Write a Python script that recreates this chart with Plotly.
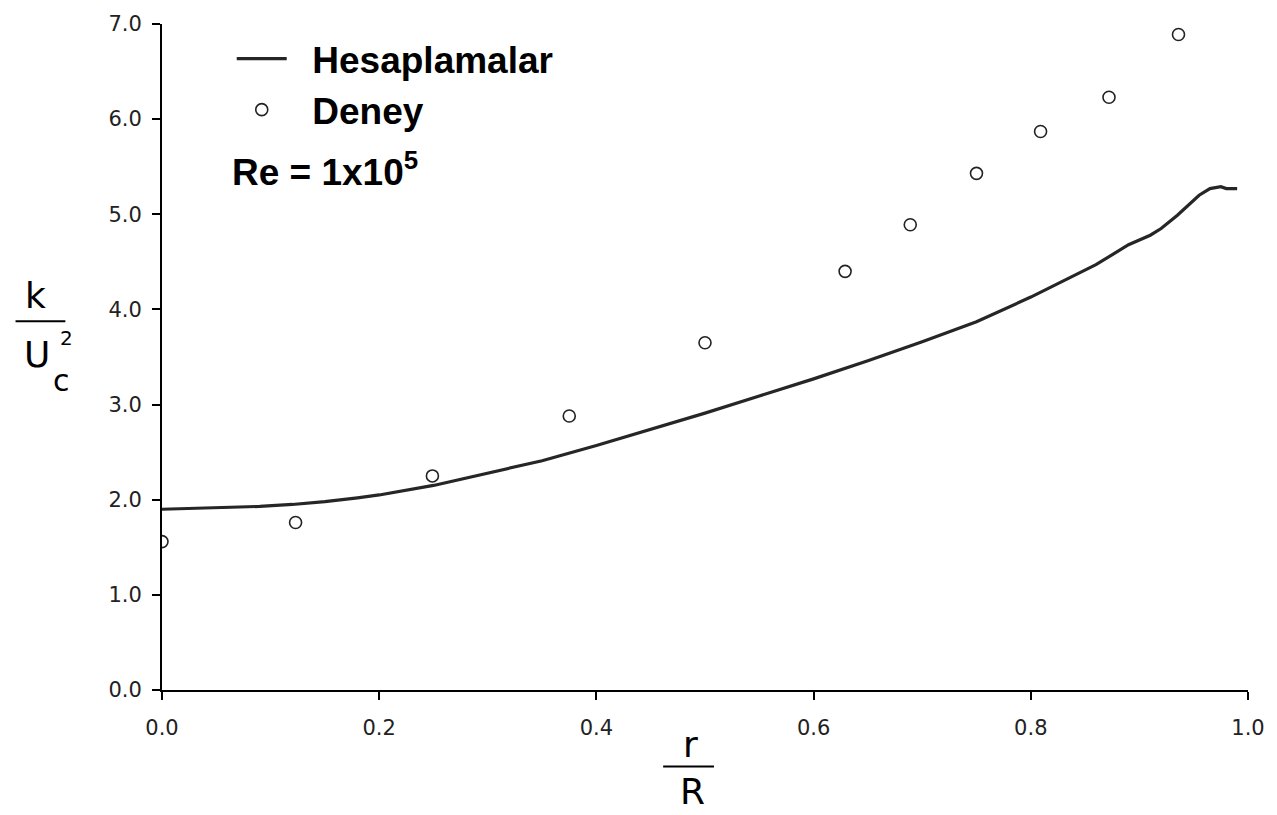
import plotly.graph_objects as go

# ---------------- data ----------------
calc_r = [0.0, 0.03, 0.06, 0.09, 0.12, 0.15, 0.18, 0.20, 0.25, 0.30, 0.35, 0.40,
          0.45, 0.50, 0.55, 0.60, 0.65, 0.70, 0.75, 0.80, 0.83, 0.86, 0.89, 0.91,
          0.92, 0.935, 0.955, 0.965, 0.975, 0.98, 0.99]
calc_k = [1.90, 1.91, 1.92, 1.93, 1.95, 1.98, 2.02, 2.05, 2.15, 2.28, 2.41, 2.57,
          2.74, 2.91, 3.09, 3.27, 3.46, 3.66, 3.87, 4.13, 4.30, 4.47, 4.68, 4.78,
          4.85, 4.99, 5.20, 5.27, 5.29, 5.27, 5.27]

exp_r = [0.0, 0.123, 0.249, 0.375, 0.50, 0.629, 0.689, 0.750, 0.809, 0.872, 0.936]
exp_k = [1.56, 1.76, 2.25, 2.88, 3.65, 4.40, 4.89, 5.43, 5.87, 6.23, 6.89]

x_ticks = [0.0, 0.2, 0.4, 0.6, 0.8, 1.0]
y_ticks = [0, 1, 2, 3, 4, 5, 6, 7]

# ---------------- layout geometry ----------------
W, H = 1277, 815
L, R, T, B = 162, 25, 20, 125
PW, PH = W - L - R, H - T - B


def px(x):
    return (x - L) / PW


def py(y):
    return (H - B - y) / PH


FONT = "DejaVu Sans"
BFONT = "Liberation Sans"
NB = "\u00a0\u00a0"

fig = go.Figure()
fig.add_trace(go.Scatter(
    x=calc_r, y=calc_k, mode="lines", name=NB + "Hesaplamalar",
    line=dict(color="#262626", width=3.2), legendgroup="a"))
fig.add_trace(go.Scatter(
    x=exp_r, y=exp_k, mode="markers", name=NB + "Deney",
    marker=dict(symbol="circle-open", size=12, color="#222222",
                line=dict(width=1.6, color="#222222")), legendgroup="b"))

annotations = [
    dict(text="Re = 1x10<sup>5</sup>", x=px(230), y=py(166), xanchor="left", yanchor="middle",
         font=dict(family=BFONT, size=37, color="black", weight="bold")),
    # y-axis title fraction
    dict(text="k", x=px(35), y=py(293), xanchor="center", yanchor="middle",
         font=dict(family=FONT, size=36, color="black")),
    dict(text="U", x=px(37), y=py(352), xanchor="center", yanchor="middle",
         font=dict(family=FONT, size=36, color="black")),
    dict(text="2", x=px(66), y=py(336), xanchor="center", yanchor="middle",
         font=dict(family=FONT, size=20, color="black")),
    dict(text="c", x=px(61), y=py(379), xanchor="center", yanchor="middle",
         font=dict(family=FONT, size=30, color="black")),
    # x-axis title fraction
    dict(text="r", x=px(692), y=py(745), xanchor="center", yanchor="middle",
         font=dict(family=FONT, size=36, color="black")),
    dict(text="R", x=px(694), y=py(792), xanchor="center", yanchor="middle",
         font=dict(family=FONT, size=36, color="black")),
]
for a in annotations:
    a.update(xref="paper", yref="paper", showarrow=False)

shapes = [
    dict(type="line", xref="paper", yref="paper", x0=px(15), x1=px(65), y0=py(319), y1=py(319),
         line=dict(color="black", width=2)),
    dict(type="line", xref="paper", yref="paper", x0=px(665), x1=px(716), y0=py(767), y1=py(767),
         line=dict(color="black", width=2)),
]

axis_common = dict(showline=True, linecolor="black", linewidth=2, ticks="outside",
                   ticklen=8, tickwidth=1.5, tickcolor="black", showgrid=False,
                   zeroline=False, tickfont=dict(family=FONT, size=21, color="#222222"))

fig.update_layout(
    width=W, height=H,
    margin=dict(l=L, r=R, t=T, b=B),
    paper_bgcolor="white", plot_bgcolor="white",
    xaxis=dict(range=[0, 1], tickvals=x_ticks, tickformat=".1f", ticklabelstandoff=10, **axis_common),
    yaxis=dict(range=[0, 7], tickvals=y_ticks, tickformat=".1f", ticklabelstandoff=6, **axis_common),
    legend=dict(x=px(232), y=py(24), xanchor="left", yanchor="top",
                bgcolor="rgba(0,0,0,0)", traceorder="grouped", tracegroupgap=0,
                itemwidth=50,
                font=dict(family=BFONT, size=37, color="black", weight="bold")),
    annotations=annotations,
    shapes=shapes,
    showlegend=True,
)

fig.write_html("out.html")
